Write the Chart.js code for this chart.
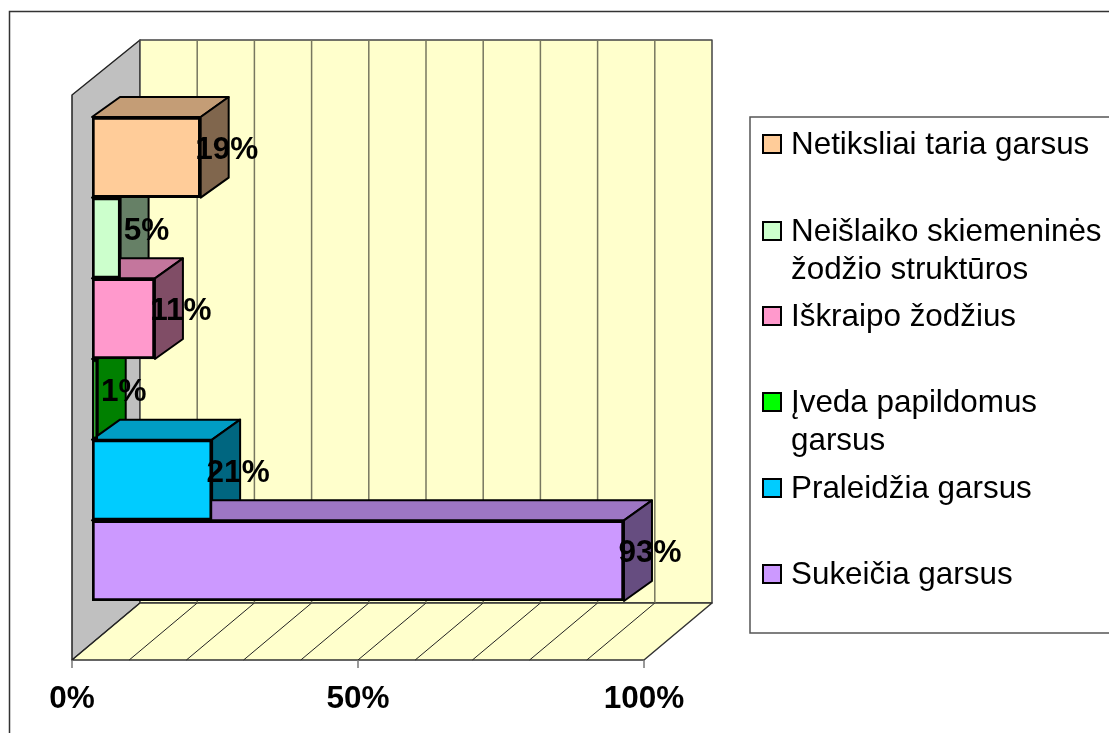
<!DOCTYPE html>
<html>
<head>
<meta charset="utf-8">
<style>body { margin: 0; background: #fff; } canvas { display: block; }</style>
<script src="https://cdn.jsdelivr.net/npm/chart.js@4"></script>
</head>
<body>
<canvas id="chart" width="1109" height="733"></canvas>
<script>
// top to bottom, same order as the legend
const categories = [
  ['Netiksliai taria garsus'],
  ['Neišlaiko skiemeninės', 'žodžio struktūros'],
  ['Iškraipo žodžius'],
  ['Įveda papildomus', 'garsus'],
  ['Praleidžia garsus'],
  ['Sukeičia garsus']
];
const values = [19, 5, 11, 1, 21, 93];
const barColors = ['#FFCC99', '#CCFFCC', '#FF99CC', '#00FF00', '#00CCFF', '#CC99FF'];
const labelTicks = [0, 50, 100];
const legendCenters = [144, 231, 316, 402, 488, 574];

const FONT = '"Liberation Sans", Arial, sans-serif';

// darker face of a bar
function shade(hex, f) {
  const n = parseInt(hex.slice(1), 16);
  const r = Math.round((n >> 16) * f);
  const g = Math.round(((n >> 8) & 255) * f);
  const b = Math.round((n & 255) * f);
  return `rgb(${r},${g},${b})`;
}

function poly(ctx, pts, fill, stroke, lw) {
  ctx.beginPath();
  pts.forEach((p, i) => (i ? ctx.lineTo(p[0], p[1]) : ctx.moveTo(p[0], p[1])));
  ctx.closePath();
  if (fill) { ctx.fillStyle = fill; ctx.fill(); }
  if (stroke) { ctx.strokeStyle = stroke; ctx.lineWidth = lw; ctx.stroke(); }
}

function line(ctx, x1, y1, x2, y2, color, lw) {
  ctx.beginPath();
  ctx.moveTo(x1, y1);
  ctx.lineTo(x2, y2);
  ctx.strokeStyle = color;
  ctx.lineWidth = lw;
  ctx.stroke();
}

// walls, floor, grid and the depth faces of the bars
const box3d = {
  id: 'box3d',
  beforeDatasetsDraw(chart) {
    const ctx = chart.ctx;
    const area = chart.chartArea;
    const sx = chart.scales.x;
    const front = v => sx.getPixelForValue(v) - 20;
    const back = v => sx.getPixelForValue(v) + 48;
    const floorFront = area.bottom + 59;
    const floorBack = area.bottom + 2;
    const wallTop = area.top - 77;

    ctx.save();
    ctx.lineJoin = 'round';
    poly(ctx, [[front(0), floorFront], [front(0), area.top - 22], [back(0), wallTop], [back(0), floorBack]], '#C0C0C0', '#222', 1.5);
    poly(ctx, [[back(0), wallTop], [back(100), wallTop], [back(100), floorBack], [back(0), floorBack]], '#FFFFCC', '#444', 1.5);
    poly(ctx, [[front(0), floorFront], [front(100), floorFront], [back(100), floorBack], [back(0), floorBack]], '#FFFFCC', '#333', 1.5);

    sx.ticks.forEach(t => {
      if (t.value > 0 && t.value < 100) {
        line(ctx, back(t.value), wallTop, back(t.value), floorBack, '#77775f', 1.5);
      }
      if (t.value < 100) line(ctx, front(t.value), floorFront, back(t.value), floorBack, '#222', 1);
    });
    labelTicks.forEach(v => line(ctx, front(v), floorFront, front(v), floorFront + 8, '#777', 1.5));

    const bars = chart.getDatasetMeta(0).data;
    bars.forEach((bar, i) => {
      const t = bar.y - bar.height / 2;
      const b = bar.y + bar.height / 2;
      const l = bar.base;
      const r = bar.x;
      poly(ctx, [[l, t], [r, t], [r + 28, t - 20], [l + 28, t - 20]], shade(barColors[i], 0.77), '#000', 2);
      poly(ctx, [[r, t], [r + 28, t - 20], [r + 28, b - 20], [r, b]], shade(barColors[i], 0.5), '#000', 2);
    });
    ctx.restore();
  },
  afterDatasetsDraw(chart) {
    const ctx = chart.ctx;
    ctx.save();
    ctx.font = 'bold 31.5px ' + FONT;
    ctx.fillStyle = '#000';
    ctx.textAlign = 'center';
    ctx.textBaseline = 'middle';
    chart.getDatasetMeta(0).data.forEach((bar, i) => {
      ctx.fillText(values[i] + '%', bar.x + 26, bar.y - 7);
    });
    ctx.restore();
  }
};

// frame round the picture and the legend box at the right
const frameAndLegend = {
  id: 'frameAndLegend',
  afterDraw(chart) {
    const ctx = chart.ctx;
    ctx.save();
    ctx.strokeStyle = '#333';
    ctx.lineWidth = 1.5;
    ctx.strokeRect(9.5, 11.5, 1200, 800);

    ctx.strokeStyle = '#555';
    ctx.strokeRect(750, 117, 400, 516);

    ctx.font = '31.4px ' + FONT;
    ctx.textAlign = 'left';
    ctx.textBaseline = 'alphabetic';
    categories.forEach((lines, i) => {
      const cy = legendCenters[i];
      ctx.fillStyle = barColors[i];
      ctx.fillRect(763, cy - 9, 18, 18);
      ctx.strokeStyle = '#000';
      ctx.lineWidth = 2;
      ctx.strokeRect(763, cy - 9, 18, 18);
      ctx.fillStyle = '#000';
      lines.forEach((text, k) => ctx.fillText(text, 791, cy + 10 + k * 38));
    });
    ctx.restore();
  }
};

new Chart(document.getElementById('chart'), {
  type: 'bar',
  data: {
    labels: categories,
    datasets: [{
      data: values,
      backgroundColor: barColors,
      borderColor: '#000',
      borderWidth: 3,
      borderSkipped: false,
      barPercentage: 1,
      categoryPercentage: 1
    }]
  },
  options: {
    indexAxis: 'y',
    responsive: false,
    animation: false,
    layout: { padding: { left: 92, right: 445, top: 117, bottom: 0 } },
    plugins: { legend: { display: false }, tooltip: { enabled: false } },
    scales: {
      x: {
        min: 0,
        max: 100,
        grid: { display: false },
        border: { display: false },
        afterFit(scale) {
          scale.height = 132;
          scale.paddingLeft = 0;
          scale.paddingRight = 0;
        },
        ticks: {
          stepSize: 10,
          autoSkip: false,
          maxRotation: 0,
          labelOffset: -20,
          padding: 71,
          color: '#000',
          font: { family: FONT, size: 31.5, weight: 'bold' },
          callback: v => (labelTicks.includes(v) ? v + '%' : '')
        }
      },
      y: { display: false }
    }
  },
  plugins: [box3d, frameAndLegend]
});
</script>
</body>
</html>
